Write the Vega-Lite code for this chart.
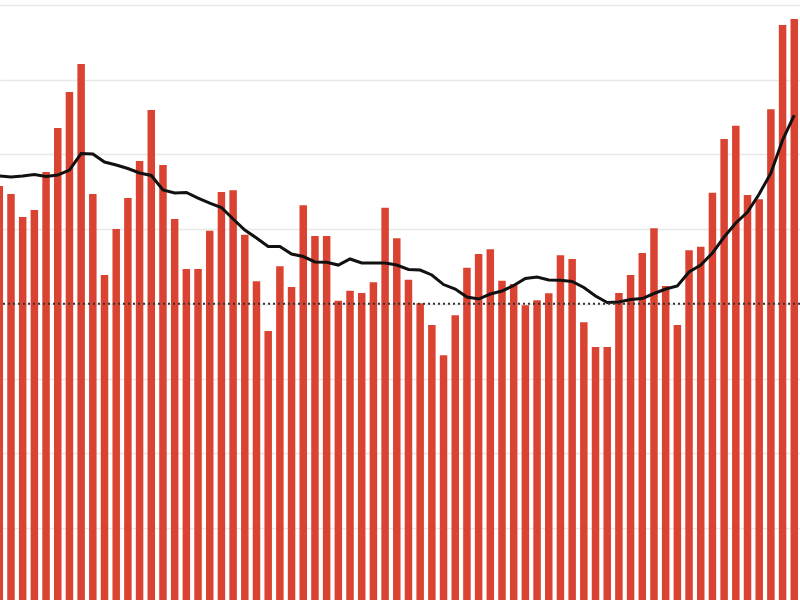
{
  "$schema": "https://vega.github.io/schema/vega-lite/v6.json",
  "width": 800,
  "height": 600,
  "autosize": {"type": "none"},
  "padding": 0,
  "background": "white",
  "config": {"view": {"stroke": null}},
  "data": {
    "values": [
      {"i": 1, "v": 55.77, "avg": 57.11},
      {"i": 2, "v": 54.70, "avg": 56.97},
      {"i": 3, "v": 51.62, "avg": 57.11},
      {"i": 4, "v": 52.56, "avg": 57.31},
      {"i": 5, "v": 57.64, "avg": 57.04},
      {"i": 6, "v": 63.54, "avg": 57.24},
      {"i": 7, "v": 68.35, "avg": 57.91},
      {"i": 8, "v": 72.10, "avg": 60.12},
      {"i": 9, "v": 54.70, "avg": 60.05},
      {"i": 10, "v": 43.86, "avg": 58.98},
      {"i": 11, "v": 50.01, "avg": 58.58},
      {"i": 12, "v": 54.16, "avg": 58.11},
      {"i": 13, "v": 59.12, "avg": 57.51},
      {"i": 14, "v": 65.94, "avg": 57.18},
      {"i": 15, "v": 58.58, "avg": 55.23},
      {"i": 16, "v": 51.35, "avg": 54.83},
      {"i": 17, "v": 44.66, "avg": 54.90},
      {"i": 18, "v": 44.66, "avg": 54.16},
      {"i": 19, "v": 49.79, "avg": 53.49},
      {"i": 20, "v": 54.97, "avg": 52.89},
      {"i": 21, "v": 55.19, "avg": 51.35},
      {"i": 22, "v": 49.25, "avg": 49.88},
      {"i": 23, "v": 43.01, "avg": 48.81},
      {"i": 24, "v": 36.36, "avg": 47.67},
      {"i": 25, "v": 45.02, "avg": 47.67},
      {"i": 26, "v": 42.25, "avg": 46.67},
      {"i": 27, "v": 53.19, "avg": 46.33},
      {"i": 28, "v": 49.08, "avg": 45.60},
      {"i": 29, "v": 49.08, "avg": 45.56},
      {"i": 30, "v": 40.41, "avg": 45.19},
      {"i": 31, "v": 41.75, "avg": 46.00},
      {"i": 32, "v": 41.45, "avg": 45.46},
      {"i": 33, "v": 42.88, "avg": 45.46},
      {"i": 34, "v": 52.86, "avg": 45.46},
      {"i": 35, "v": 48.77, "avg": 45.19},
      {"i": 36, "v": 43.23, "avg": 44.59},
      {"i": 37, "v": 40.07, "avg": 44.52},
      {"i": 38, "v": 37.16, "avg": 43.86},
      {"i": 39, "v": 33.11, "avg": 42.58},
      {"i": 40, "v": 38.46, "avg": 41.98},
      {"i": 41, "v": 44.83, "avg": 40.91},
      {"i": 42, "v": 46.67, "avg": 40.64},
      {"i": 43, "v": 47.30, "avg": 41.31},
      {"i": 44, "v": 43.09, "avg": 41.71},
      {"i": 45, "v": 42.65, "avg": 42.45},
      {"i": 46, "v": 39.80, "avg": 43.39},
      {"i": 47, "v": 40.47, "avg": 43.59},
      {"i": 48, "v": 41.41, "avg": 43.19},
      {"i": 49, "v": 46.49, "avg": 43.15},
      {"i": 50, "v": 46.00, "avg": 42.99},
      {"i": 51, "v": 37.52, "avg": 42.18},
      {"i": 52, "v": 34.22, "avg": 41.04},
      {"i": 53, "v": 34.22, "avg": 40.17},
      {"i": 54, "v": 41.45, "avg": 40.24},
      {"i": 55, "v": 43.86, "avg": 40.58},
      {"i": 56, "v": 46.80, "avg": 40.71},
      {"i": 57, "v": 50.11, "avg": 41.38},
      {"i": 58, "v": 42.38, "avg": 41.98},
      {"i": 59, "v": 37.16, "avg": 42.38},
      {"i": 60, "v": 47.16, "avg": 44.26},
      {"i": 61, "v": 47.64, "avg": 45.19},
      {"i": 62, "v": 54.87, "avg": 46.80},
      {"i": 63, "v": 62.06, "avg": 48.94},
      {"i": 64, "v": 63.84, "avg": 50.82},
      {"i": 65, "v": 54.56, "avg": 52.29},
      {"i": 66, "v": 53.99, "avg": 54.70},
      {"i": 67, "v": 66.04, "avg": 57.51},
      {"i": 68, "v": 77.32, "avg": 61.93},
      {"i": 69, "v": 78.13, "avg": 65.27}
    ]
  },
  "layer": [
    {
      "mark": {"type": "bar", "color": "#da4331", "width": 7.5, "clip": true},
      "encoding": {
        "x": {
          "field": "i",
          "type": "quantitative",
          "scale": {"domain": [1.06, 69.49], "nice": false, "zero": false, "padding": 0},
          "axis": null
        },
        "y": {
          "field": "v",
          "type": "quantitative",
          "scale": {"domain": [0.35, 80.67], "nice": false, "zero": false},
          "axis": {
            "values": [10, 20, 30, 40, 50, 60, 70, 80],
            "labels": false,
            "ticks": false,
            "domain": false,
            "title": null,
            "grid": true,
            "gridColor": "#e8e8e8",
            "gridWidth": 1.5
          }
        }
      }
    },
    {
      "mark": {"type": "line", "color": "#111111", "strokeWidth": 3, "clip": true},
      "encoding": {
        "x": {"field": "i", "type": "quantitative"},
        "y": {"field": "avg", "type": "quantitative"}
      }
    },
    {
      "data": {"values": [{"ref": 40}]},
      "mark": {"type": "rule", "color": "#333333", "strokeWidth": 2, "strokeDash": [2, 3]},
      "encoding": {
        "y": {"field": "ref", "type": "quantitative"}
      }
    }
  ]
}
